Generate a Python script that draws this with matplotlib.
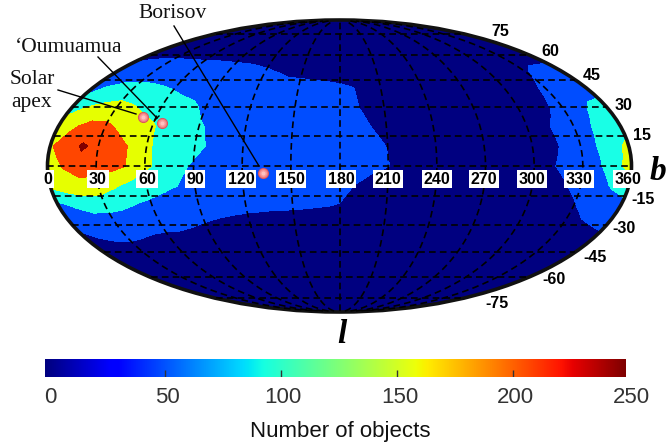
# sky map of object counts, mollweide projection

import numpy as np
import matplotlib
matplotlib.use("Agg")
import matplotlib.pyplot as plt
from matplotlib.lines import Line2D

W, H = 667, 448

# galactic longitude 0..360 every 10 deg, one list per latitude
lon_deg = list(range(0, 361, 10))
lat_deg = [-90, -80, -70, -60, -50, -40, -30, -20, -10, 0, 10, 20, 30, 40, 50, 60, 70, 80, 90]

b_p90 = [0]*37
b_p80 = [2]*37
b_p70 = [5, 6, 7, 8, 8, 8, 8, 8, 8, 7, 7, 6, 5, 4, 3, 3, 2, 2, 2, 2, 1, 1, 1, 1, 1, 1, 1, 1, 1, 2, 2, 2, 3, 3, 4, 4, 5]
b_p60 = [18, 19, 20, 20, 20, 20, 20, 20, 20, 19, 19, 17, 15, 13, 11, 10, 9, 8, 7, 6, 4, 3, 2, 2, 2, 2, 2, 3, 3, 4, 6, 8, 12, 14, 14, 14, 16]
b_p50 = [32, 38, 40, 40, 38, 36, 34, 33, 32, 31, 30, 29, 27, 24, 19, 18, 16, 14, 12, 10, 6, 4, 3, 3, 3, 3, 3, 4, 5, 7, 9, 12, 16, 22, 30, 32, 33]
b_p40 = [60, 80, 92, 95, 90, 82, 72, 62, 55, 50, 45, 42, 40, 38, 36, 34, 33, 32, 30, 26, 14, 8, 5, 4, 3, 3, 3, 4, 5, 7, 9, 13, 20, 30, 40, 48, 55]
b_p30 = [100, 125, 135, 140, 130, 115, 105, 95, 85, 65, 55, 50, 45, 42, 40, 38, 37, 35, 32, 28, 18, 10, 6, 4, 3, 3, 3, 4, 5, 7, 10, 15, 22, 40, 55, 85, 95]
b_p20 = [150, 170, 190, 185, 165, 145, 130, 105, 95, 80, 65, 55, 50, 47, 45, 42, 40, 38, 35, 30, 25, 15, 8, 5, 4, 4, 4, 4, 5, 7, 10, 18, 32, 48, 72, 95, 110]
b_p10 = [170, 195, 232, 210, 195, 170, 135, 105, 95, 85, 70, 55, 50, 47, 46, 45, 42, 42, 40, 38, 32, 24, 12, 6, 4, 4, 4, 4, 5, 8, 11, 15, 30, 45, 75, 110, 135]
b_000 = [150, 180, 205, 195, 190, 172, 135, 110, 85, 70, 60, 55, 50, 48, 46, 45, 45, 42, 38, 35, 32, 26, 15, 8, 4, 4, 4, 4, 5, 8, 11, 20, 35, 50, 68, 105, 150]
b_m10 = [135, 150, 155, 150, 130, 110, 100, 85, 74, 62, 55, 52, 48, 45, 42, 40, 40, 38, 32, 24, 14, 8, 5, 4, 3, 3, 3, 4, 5, 7, 9, 12, 22, 38, 58, 80, 100]
b_m20 = [60, 80, 95, 95, 85, 72, 62, 55, 50, 45, 42, 38, 34, 32, 30, 30, 28, 26, 24, 18, 10, 6, 4, 3, 3, 3, 3, 3, 4, 5, 6, 9, 14, 22, 40, 50, 60]
b_m30 = [30, 38, 42, 40, 38, 36, 34, 33, 28, 22, 16, 12, 10, 9, 8, 7, 7, 6, 6, 5, 4, 3, 3, 3, 3, 3, 3, 3, 3, 3, 4, 5, 8, 12, 18, 26, 35]
b_m40 = [15, 20, 23, 23, 20, 14, 10, 8, 6, 5, 4, 4, 4, 3, 3, 3, 3, 3, 3, 3, 2, 2, 2, 2, 2, 2, 2, 2, 2, 2, 2, 2, 3, 4, 5, 5, 6]
b_m50 = [3]*37
b_m60 = [1]*37
b_m70 = [1]*37
b_m80 = [0]*37
b_m90 = [0]*37

counts = np.array([b_m90, b_m80, b_m70, b_m60, b_m50, b_m40, b_m30, b_m20, b_m10, b_000,
                   b_p10, b_p20, b_p30, b_p40, b_p50, b_p60, b_p70, b_p80, b_p90])

levels = [0, 25, 75, 125, 175, 225, 250]
level_colors = ["#000080", "#004dff", "#19ffe6", "#e6ff00", "#ff4600", "#800000"]

cbar_ticks = [0, 50, 100, 150, 200, 250]
lon_labels = [0, 30, 60, 90, 120, 150, 180, 210, 240, 270, 300, 330, 360]
lat_labels = [75, 60, 45, 30, 15, -15, -30, -45, -60, -75]

# objects: l, b
apex = (51, 25)
oumuamua = (65.5, 21.7)
borisov = (133, -3.5)


def fx(x):
    return x / W


def fy(y):
    return 1 - y / H


def rad(l, b):
    return np.deg2rad(l - 180), np.deg2rad(b)


plt.rcParams["font.family"] = "Liberation Sans"
fig = plt.figure(figsize=(W / 100, H / 100), dpi=100)

ax = fig.add_axes([fx(47), fy(312), 585 / W, 292 / H], projection="mollweide")
ax.set_facecolor("#000080")
lo, la = rad(np.array(lon_deg), np.array(lat_deg))
ax.contourf(lo, la, counts, levels=levels, colors=level_colors)

ax.set_longitude_grid(30)
ax.set_latitude_grid(15)
ax.set_longitude_grid_ends(88)
ax.grid(True, color="black", linestyle=(0, (4, 2.5)), linewidth=1.2)
ax.set_axisbelow(False)
ax.set_xticklabels([])
ax.set_yticklabels([])
ax.spines["geo"].set_linewidth(2.6)
ax.spines["geo"].set_edgecolor("#111111")

# objects, little shaded balls
for p in [apex, oumuamua, borisov]:
    px, py = rad(*p)
    ax.scatter([px], [py], s=64, color="#d9505a", zorder=6, linewidths=0)
    ax.scatter([px], [py], s=46, color="#f07a7e", zorder=7, linewidths=0)
    ax.scatter([px], [py], s=26, color="#f89a9a", zorder=8, linewidths=0)
    ax.scatter([px], [py], s=9, color="#ffc0c0", zorder=9, linewidths=0)

# leader lines
for x0, y0, x1, y1 in [(174, 26, 259, 166), (98, 57, 157, 118), (58, 90, 136, 114)]:
    fig.add_artist(Line2D([fx(x0), fx(x1)], [fy(y0), fy(y1)], color="black", lw=1.0, zorder=5))
fig.add_artist(Line2D([fx(155), fx(159)], [fy(120), fy(116)], color="black", lw=1.0, zorder=5))

# longitude labels along the equator
lon_x = [48, 98, 147, 195, 241, 291, 341, 388, 437, 484, 532, 579, 628]
for val, x in zip(lon_labels, lon_x):
    fig.text(fx(x), fy(179), str(val), ha="center", va="center", fontsize=11.5, fontweight="bold",
             bbox=dict(facecolor="white", edgecolor="none", pad=1.2), zorder=4)

# latitude labels outside the outline
lat_xy = [(500, 32), (550, 52), (592, 75), (624, 105), (642, 135),
          (643, 200), (624, 228), (595, 257), (554, 280), (497, 303)]
for val, (x, y) in zip(lat_labels, lat_xy):
    fig.text(fx(x), fy(y), str(val), ha="center", va="center", fontsize=11.5, fontweight="bold")

fig.text(fx(658), fy(171), "b", family="Liberation Serif", style="italic", fontweight="bold",
         fontsize=24, ha="center", va="center")
fig.text(fx(342), fy(334), "l", family="Liberation Serif", style="italic", fontweight="bold",
         fontsize=24, ha="center", va="center")

serif = dict(family="Liberation Serif", fontsize=15.5, ha="center", va="center", color="#111111")
fig.text(fx(173), fy(13), "Borisov", **serif)
fig.text(fx(69), fy(48), "\u2018Oumuamua", **serif)
fig.text(fx(32), fy(79), "Solar", **serif)
fig.text(fx(32), fy(103), "apex", **serif)

# colorbar
cax = fig.add_axes([fx(45), fy(377), 581 / W, 18 / H])
grad = np.linspace(0, 1, 256).reshape(1, -1)
cax.imshow(grad, cmap="jet", aspect="auto", extent=[-1.5, 248.5, 0, 1])
cax.set_xlim(-1.5, 248.5)
cax.set_ylim(0, 1)
cax.axis("off")
cax.vlines(cbar_ticks[1:-1], 0, 0.38, color="#333333", lw=1.0)
for t in cbar_ticks:
    cax.text(t + 1, -0.58, str(t), ha="center", va="top", fontsize=16, color="#333333", clip_on=False)
fig.text(fx(340), fy(431), "Number of objects", ha="center", va="center", fontsize=16, color="#111111")

fig.savefig("out.png", dpi=100)
